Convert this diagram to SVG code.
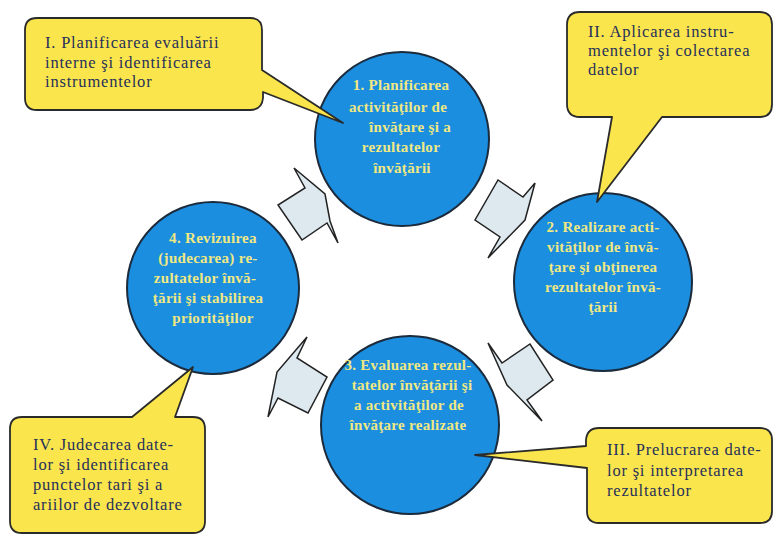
<svg xmlns="http://www.w3.org/2000/svg" width="775" height="535" viewBox="0 0 775 535">
<style>
.bg{fill:#ffffff}
.circ{fill:#1b8ee0;stroke:#1c2b3c;stroke-width:2}
.ct{font-family:'Liberation Serif','DejaVu Serif',serif;font-size:15px;font-weight:bold;fill:#f0e882;text-anchor:middle;letter-spacing:0.3px}
.call{fill:#fbe54c;stroke:#2a2a2a;stroke-width:1.8;stroke-linejoin:round}
.lt{font-family:'Liberation Serif','DejaVu Serif',serif;font-size:16.5px;fill:#26305a;letter-spacing:0.8px}
.arr{fill:#dde9ef;stroke:#222;stroke-width:1.5;stroke-linejoin:miter}
</style>
<rect class="bg" x="0" y="0" width="775" height="535"/>

<g id="connectors">
  <polygon class="arr" points="294,168 305,188 278,205 302,240 327,223 338,243 330,221 325,194"/>
  <polygon class="arr" points="535,183 523,197 498,180 475,220 500,237 488,258 525,220"/>
  <polygon class="arr" points="488,343 502,363 530,344 553,380 527,400 542,421 507,385"/>
  <polygon class="arr" points="307,337 297,358 327,377 308,413 278,398 268,417 277,372"/>
</g>

<g id="node1">
  <circle class="circ" cx="402" cy="139" r="87"/>
  <text class="ct"><tspan x="401" y="90">1. Planificarea</tspan><tspan x="398" y="112">activităţilor de</tspan><tspan x="410" y="132">învăţare şi a</tspan><tspan x="401" y="152">rezultatelor</tspan><tspan x="402" y="173">învăţării</tspan></text>
</g>

<g id="node2">
  <circle class="circ" cx="603" cy="282" r="89"/>
  <text class="ct"><tspan x="603" y="232">2. Realizare acti-</tspan><tspan x="603" y="252">vităţilor de învă-</tspan><tspan x="603" y="272">ţare şi obţinerea</tspan><tspan x="603" y="292">rezultatelor învă-</tspan><tspan x="603" y="312">ţării</tspan></text>
</g>

<g id="node3">
  <circle class="circ" cx="410" cy="425" r="89"/>
  <text class="ct"><tspan x="408" y="370">3. Evaluarea rezul-</tspan><tspan x="412" y="390">tatelor învăţării şi</tspan><tspan x="409" y="410">a activităţilor de</tspan><tspan x="408" y="430">învăţare realizate</tspan></text>
</g>

<g id="node4">
  <circle class="circ" cx="213" cy="288" r="86"/>
  <text class="ct"><tspan x="213" y="243">4. Revizuirea</tspan><tspan x="208" y="263">(judecarea) re-</tspan><tspan x="205" y="283">zultatelor învă-</tspan><tspan x="208" y="303">ţării şi stabilirea</tspan><tspan x="213" y="323">priorităţilor</tspan></text>
</g>

<g id="callout1">
  <path class="call" d="M37,18 H250 Q262,18 262,30 V70 L343,123 L263,92 V98 Q262,110 250,110 H37 Q25,110 25,98 V30 Q25,18 37,18 Z"/>
  <text class="lt"><tspan x="45" y="48">I. Planificarea evaluării</tspan><tspan x="45" y="68">interne şi identificarea</tspan><tspan x="45" y="87">instrumentelor</tspan></text>
</g>

<g id="callout2">
  <path class="call" d="M580,12 H760 Q772,12 772,25 V104 Q772,117 760,117 H662 L597,202 L612,117 H580 Q567,117 567,104 V25 Q567,12 580,12 Z"/>
  <text class="lt"><tspan x="588" y="37">II. Aplicarea instru-</tspan><tspan x="588" y="56">mentelor şi colectarea</tspan><tspan x="588" y="75">datelor</tspan></text>
</g>

<g id="callout3">
  <path class="call" d="M599,428 H760 Q772,428 772,440 V511 Q772,523 760,523 H599 Q587,523 587,511 V468 L475,455 L586,446 V440 Q587,428 599,428 Z"/>
  <text class="lt"><tspan x="607" y="455">III. Prelucrarea date-</tspan><tspan x="607" y="476">lor şi interpretarea</tspan><tspan x="607" y="496">rezultatelor</tspan></text>
</g>

<g id="callout4">
  <path class="call" d="M22,417 H132 L193,367 L175,417 H193 Q205,417 205,429 V521 Q205,533 193,533 H22 Q10,533 10,521 V429 Q10,417 22,417 Z"/>
  <text class="lt"><tspan x="33" y="450">IV. Judecarea date-</tspan><tspan x="33" y="470">lor şi identificarea</tspan><tspan x="33" y="490">punctelor tari şi a</tspan><tspan x="33" y="510">ariilor de dezvoltare</tspan></text>
</g>
</svg>
